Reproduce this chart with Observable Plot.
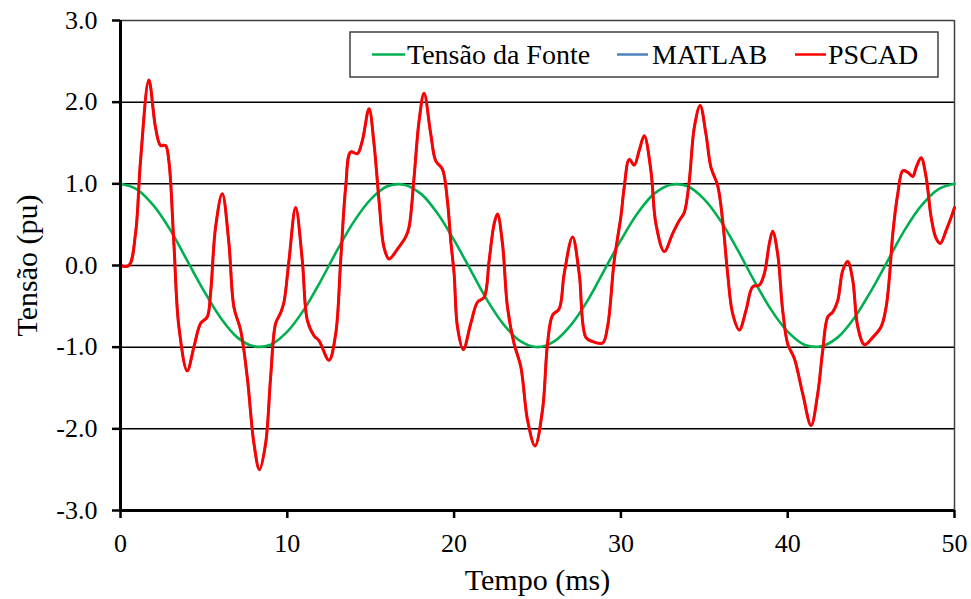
<!DOCTYPE html>
<html>
<head>
<meta charset="utf-8">
<script src="https://cdn.jsdelivr.net/npm/d3@7"></script>
<script src="https://cdn.jsdelivr.net/npm/@observablehq/plot@0.6"></script>
<style>
  html, body { margin: 0; padding: 0; background: #fff; }
  #chart { width: 971px; height: 599px; }
</style>
</head>
<body>
<div id="chart"></div>
<script>
// ---- data ----
const xTicks = [0, 10, 20, 30, 40, 50];
const yTicks = [-3, -2, -1, 0, 1, 2, 3];
const gridValues = [-2, -1, 0, 1, 2];

const seriesNames = ["Tensão da Fonte", "MATLAB", "PSCAD"];
const seriesColors = ["#00b050", "#4f81bd", "#ff0000"];

// Tensão da Fonte (source voltage), read every 1 ms
const fonteTime = [0,1,2,3,4,5,6,7,8,9,10,11,12,13,14,15,16,17,18,19,20,21,22,23,24,25,26,27,28,29,30,31,32,33,34,35,36,37,38,39,40,41,42,43,44,45,46,47,48,49,50];
const fonteValue = [1.0,0.93,0.73,0.43,0.06,-0.31,-0.64,-0.88,-0.99,-0.97,-0.81,-0.54,-0.19,0.19,0.54,0.81,0.97,0.99,0.88,0.64,0.31,-0.06,-0.43,-0.73,-0.93,-1.0,-0.93,-0.73,-0.43,-0.06,0.31,0.64,0.88,0.99,0.97,0.81,0.54,0.19,-0.19,-0.54,-0.81,-0.97,-0.99,-0.88,-0.64,-0.31,0.06,0.43,0.73,0.93,1.0];

// PSCAD / MATLAB load voltage (the two curves coincide)
const cargaTime = [0,0.5,0.9,1.2,1.7,2.1,2.4,2.7,2.9,3.2,3.5,4.0,4.4,4.8,5.2,5.4,5.7,6.1,6.5,6.8,7.2,7.6,8.0,8.33,8.7,9.0,9.3,9.6,9.8,10.1,10.5,10.9,11.2,11.6,11.9,12.5,12.9,13.2,13.5,13.8,14.2,14.5,14.9,15.2,15.5,15.8,16.1,16.6,17.1,17.3,17.6,17.9,18.2,18.6,18.9,19.3,19.6,19.8,20.0,20.2,20.55,21.0,21.4,21.8,22.1,22.4,22.6,22.9,23.2,23.6,24.0,24.4,24.85,25.3,25.6,25.9,26.3,26.6,27.1,27.5,27.9,28.3,28.9,29.2,29.6,30.0,30.2,30.5,30.8,31.1,31.4,31.8,32.1,32.6,33.1,33.5,33.8,34.1,34.4,34.75,35.1,35.4,35.8,36.1,36.4,36.7,37.1,37.5,37.9,38.3,38.6,38.9,39.1,39.4,39.7,40.0,40.4,40.9,41.4,41.8,42.1,42.4,42.7,43.0,43.3,43.6,43.9,44.2,44.6,45.1,45.6,45.9,46.1,46.3,46.6,46.9,47.2,47.5,47.7,48.0,48.3,48.6,48.9,49.15,49.5,49.8,50];
const cargaValue = [0,0.0,0.39,1.28,2.27,1.69,1.47,1.47,1.28,0.27,-0.75,-1.29,-1.0,-0.71,-0.63,-0.34,0.47,0.88,0.27,-0.51,-0.79,-1.37,-2.18,-2.5,-2.18,-1.37,-0.71,-0.58,-0.45,0.06,0.71,0.06,-0.67,-0.86,-0.92,-1.16,-0.84,0.06,0.96,1.39,1.37,1.53,1.92,1.49,0.79,0.22,0.08,0.2,0.35,0.47,1.08,1.77,2.11,1.61,1.28,1.18,0.79,0.3,-0.1,-0.75,-1.03,-0.71,-0.45,-0.39,0.06,0.51,0.63,0.27,-0.51,-0.96,-1.24,-1.89,-2.21,-1.77,-0.96,-0.61,-0.53,-0.1,0.35,-0.1,-0.88,-0.93,-0.95,-0.75,0.06,0.6,0.96,1.3,1.23,1.41,1.59,1.16,0.51,0.17,0.39,0.55,0.65,1.04,1.69,1.96,1.61,1.2,0.98,0.55,-0.1,-0.59,-0.79,-0.55,-0.26,-0.24,-0.1,0.27,0.42,0.14,-0.55,-0.96,-1.14,-1.57,-1.96,-1.57,-1.04,-0.63,-0.57,-0.43,-0.06,0.05,-0.18,-0.75,-0.97,-0.88,-0.75,-0.51,-0.14,0.39,0.88,1.16,1.14,1.09,1.2,1.32,1.08,0.59,0.33,0.27,0.43,0.59,0.71];

// ---- build tables ----
const fonte = fonteTime.map((t, i) => ({t, v: fonteValue[i]}));
const carga = cargaTime.map((t, i) => ({t, v: cargaValue[i]}));

const W = 971, H = 599;
const mL = 120, mR = 17, mT = 20, mB = 89;
const serif = "'Liberation Serif', 'Times New Roman', serif";

const chart = Plot.plot({
  width: W,
  height: H,
  marginLeft: mL,
  marginRight: mR,
  marginTop: mT,
  marginBottom: mB,
  style: {fontFamily: serif, fontSize: "26px", color: "#000", background: "#fff"},
  x: {domain: [0, 50]},
  y: {domain: [-3, 3]},
  marks: [
    Plot.ruleY(gridValues, {stroke: "#000", strokeWidth: 1.5}),
    Plot.ruleY([3], {stroke: "#404040", strokeWidth: 1.5}),
    Plot.ruleX([50], {stroke: "#404040", strokeWidth: 1.5}),
    Plot.line(fonte, {x: "t", y: "v", stroke: seriesColors[0], strokeWidth: 2.6, curve: "catmull-rom"}),
    Plot.line(carga, {x: "t", y: "v", stroke: seriesColors[1], strokeWidth: 2.5, curve: "catmull-rom"}),
    Plot.line(carga, {x: "t", y: "v", stroke: seriesColors[2], strokeWidth: 3, curve: "catmull-rom"}),
    Plot.ruleX([0], {stroke: "#000", strokeWidth: 3}),
    Plot.ruleY([-3], {stroke: "#000", strokeWidth: 3}),
    Plot.axisX({ticks: xTicks, tickSize: 8, tickPadding: 15, tickFormat: d => String(d), label: null, strokeWidth: 2.5}),
    Plot.axisY({ticks: yTicks, tickSize: 8, tickPadding: 15, tickFormat: d => d.toFixed(1), label: null, strokeWidth: 2.5}),
    Plot.text(["Tempo (ms)"], {frameAnchor: "bottom", dy: 79, lineAnchor: "bottom", fontSize: 30}),
    Plot.text(["Tensão (pu)"], {frameAnchor: "left", dx: -93, rotate: -90, lineAnchor: "middle", textAnchor: "middle", fontSize: 30})
  ]
});

document.getElementById("chart").appendChild(chart);

// ---- legend (inside the plot, top right) ----
const svg = d3.select(chart);
const lg = svg.append("g");
lg.append("rect").attr("x", 350).attr("y", 32).attr("width", 588).attr("height", 45)
  .attr("fill", "#fff").attr("stroke", "#404040").attr("stroke-width", 1.5);
const entries = [
  {x1: 372, x2: 405, tx: 407},
  {x1: 617, x2: 648, tx: 652},
  {x1: 795, x2: 826, tx: 828}
];
entries.forEach((e, i) => {
  lg.append("line").attr("x1", e.x1).attr("x2", e.x2).attr("y1", 54.5).attr("y2", 54.5)
    .attr("stroke", seriesColors[i]).attr("stroke-width", 2.5);
  lg.append("text").attr("x", e.tx).attr("y", 63.5)
    .style("font-family", serif).style("font-size", "28px").style("text-anchor", "start")
    .style("fill", "#000").text(seriesNames[i]);
});
</script>
</body>
</html>
